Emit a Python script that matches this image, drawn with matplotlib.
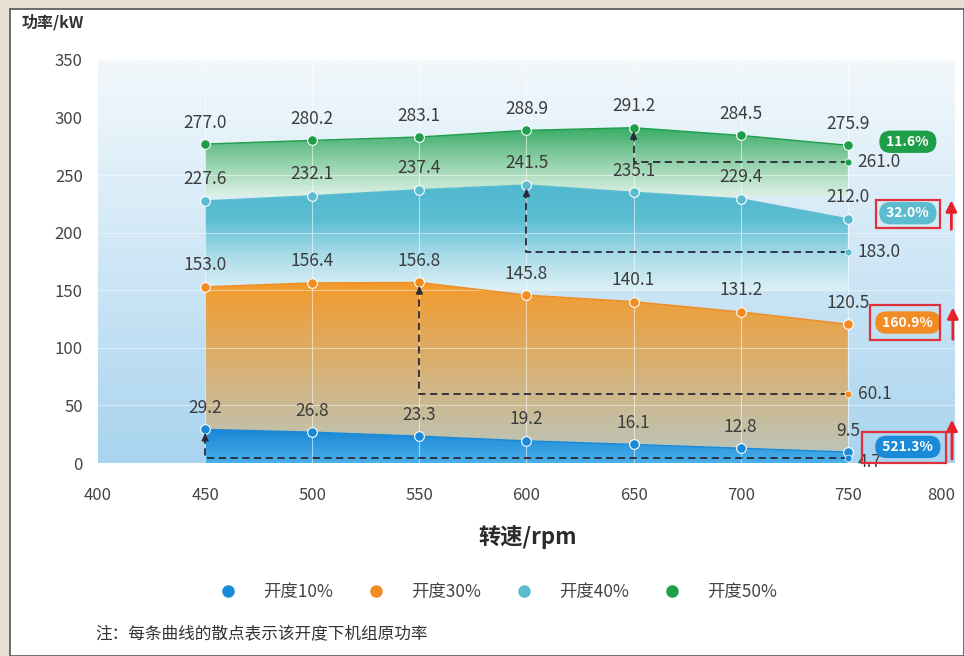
import numpy as np
import matplotlib
matplotlib.use("Agg")
import matplotlib.pyplot as plt
from matplotlib.colors import LinearSegmentedColormap
from matplotlib.patches import PathPatch, Rectangle

plt.rcParams['font.family'] = ['Noto Sans CJK SC', 'DejaVu Sans']

# ---------------- data ----------------
rpm = [450, 500, 550, 600, 650, 700, 750]
p10 = [29.2, 26.8, 23.3, 19.2, 16.1, 12.8, 9.5]
p30 = [153.0, 156.4, 156.8, 145.8, 140.1, 131.2, 120.5]
p40 = [227.6, 232.1, 237.4, 241.5, 235.1, 229.4, 212.0]
p50 = [277.0, 280.2, 283.1, 288.9, 291.2, 284.5, 275.9]
orig_power = [4.7, 60.1, 183.0, 261.0]          # 10%, 30%, 40%, 50%
series_names = ['开度10%', '开度30%', '开度40%', '开度50%']
series_colors = ['#1a8ad8', '#f08c22', '#5bbcd0', '#1f9e4a']
xticks = [400, 450, 500, 550, 600, 650, 700, 750, 800]
yticks = [0, 50, 100, 150, 200, 250, 300, 350]

W, H = 964, 656
fig = plt.figure(figsize=(W / 100, H / 100), dpi=100)
fig.patch.set_facecolor('#e6dfd2')
# white panel
fig.patches.append(Rectangle((10 / W, 0), 1 - 10 / W, 1 - 9 / H, transform=fig.transFigure,
                             facecolor='white', edgecolor='#555555', lw=1.2, zorder=-10))

ax = fig.add_axes([98 / W, 1 - 463 / H, 857 / W, (463 - 60) / H])
ax.set_facecolor('none')
ax.set_zorder(1)

x = np.array(rpm, dtype=float)
data = [np.array(p10), np.array(p30), np.array(p40), np.array(p50)]

# background gradient
bg = LinearSegmentedColormap.from_list('bg', ['#a9d4ef', '#cfe7f6', '#f2f8fc'])
ax.imshow(np.linspace(0, 1, 256).reshape(-1, 1), extent=[400, 800, 0, 350], origin='lower',
          cmap=bg, aspect='auto', zorder=0)


def grad_fill(ybot, ytop, colors, y0, y1, z):
    poly = ax.fill_between(x, ybot, ytop, facecolor='none', edgecolor='none')
    path = poly.get_paths()[0]
    patch = PathPatch(path, transform=ax.transData, facecolor='none', edgecolor='none')
    ax.add_patch(patch)
    cmap = LinearSegmentedColormap.from_list('g', colors)
    im = ax.imshow(np.linspace(0, 1, 256).reshape(-1, 1), extent=[x.min(), x.max(), y0, y1],
                   origin='lower', cmap=cmap, aspect='auto', zorder=z)
    im.set_clip_path(patch)


zeros = np.zeros_like(x)
grad_fill(zeros, data[1], ['#b8c7c2', '#d6b278', '#f39a2b'], 0, 157, 1)
grad_fill(data[1], data[2], ['#dcf0f6', '#a8dbe8', '#5bbdd2', '#50b8cf'], 150, 242, 1)
grad_fill(data[2], data[3], ['#dcf1e5', '#8fd0a8', '#36aa64'], 232, 292, 1)
grad_fill(zeros, data[0], ['#4ab0ea', '#1783d4'], 0, 30, 2)

# grid
for xv in rpm:
    ax.axvline(xv, color='white', lw=0.8, alpha=0.55, zorder=2.5)
for yv in yticks[1:]:
    ax.axhline(yv, color='white', lw=0.8, alpha=0.45, zorder=2.5)

# lines + markers + labels
for d, c in zip(data, series_colors):
    ax.plot(x, d, color=c, lw=1.0, zorder=4)
    ax.plot(x, d, 'o', color=c, ms=7, mec='white', mew=0.8, zorder=5)
    for xv, yv in zip(x, d):
        ax.annotate(f'{yv:.1f}', (xv, yv), xytext=(0, 9), textcoords='offset points',
                    ha='center', va='bottom', fontsize=12.5, color='#3c3c3c', zorder=8)

# dashed annotations from original power to max
for d, o, c in zip(data, orig_power, series_colors):
    i = int(np.argmax(d))
    xm, ym = x[i], d[i]
    ax.plot([x[-1], xm, xm], [o, o, ym - 4], ls=(0, (4, 2.5)), color='#2a2a3a', lw=1.3, zorder=6)
    ax.annotate('', xy=(xm, ym - 1), xytext=(xm, ym - 8),
                arrowprops=dict(arrowstyle='-|>', color='#2a2a3a', lw=1.2, mutation_scale=10),
                zorder=6)
    ax.plot([x[-1]], [o], 'o', color=c, ms=5, mec='white', mew=0.5, zorder=6)
    ax.annotate(f'{o:.1f}', (x[-1], o), xytext=(7, 0 if o > 10 else -3), textcoords='offset points',
                ha='left', va='center', fontsize=12.5, color='#3c3c3c', zorder=6.5)

# badges
gains = [(max(d) - o) / o * 100 for d, o in zip(data, orig_power)]
badge_y = [14, 122, 217, 279]
for g, by, c in zip(gains, badge_y, series_colors):
    ax.text(778, by, f' {g:.1f}% ', ha='center', va='center', fontsize=10, color='white',
            fontweight='bold', zorder=9, clip_on=False,
            bbox=dict(boxstyle='round,pad=0.3,rounding_size=0.8', fc=c, ec='none'))

# red boxes and arrows
red_boxes = [(756.6, 0.0, 39.2, 26.9), (760.4, 106.9, 32.6, 30.4), (763.2, 204.2, 29.8, 24.3)]
red_arrows = [(798.6, 1.0, 40.0), (799.0, 105.0, 137.5), (798.3, 200.5, 230.5)]
for (bx, byy, bw, bh) in red_boxes:
    ax.add_patch(Rectangle((bx, byy), bw, bh, fill=False, ec='#e0303c', lw=1.6, zorder=10,
                           clip_on=False))
for (axv, y0, y1) in red_arrows:
    ax.annotate('', xy=(axv, y1), xytext=(axv, y0), annotation_clip=False,
                arrowprops=dict(arrowstyle='-|>', color='#e8202a', lw=2.0, mutation_scale=16),
                zorder=10)

# axes
ax.set_xlim(400, 800)
ax.set_ylim(0, 350)
ax.set_xticks(xticks)
ax.set_yticks(yticks)
ax.set_xticklabels([str(t) for t in xticks])
ax.tick_params(axis='x', length=0, pad=17, labelsize=12, labelcolor='#444444')
ax.tick_params(axis='y', length=0, pad=11, labelsize=12, labelcolor='#444444')
ax.get_xticklabels()[-1].set_ha('right')
for s in ax.spines.values():
    s.set_visible(False)

fig.text(528 / W, 1 - 537 / H, '转速/rpm', ha='center', va='center', fontsize=16,
         fontweight='bold', color='#2a2a2a')
fig.text(22 / W, 1 - 22 / H, '功率/kW', ha='left', va='center', fontsize=11.5,
         fontweight='bold', color='#333333')

handles = [plt.Line2D([], [], ls='none', marker='o', ms=8, color=c) for c in series_colors]
fig.legend(handles, series_names, loc='center', bbox_to_anchor=(0.512, 1 - 592 / H), ncol=4,
           frameon=False, fontsize=12.5, labelcolor='#444444', handletextpad=1.0,
           columnspacing=1.5)

fig.text(95 / W, 1 - 635 / H, '注：每条曲线的散点表示该开度下机组原功率', ha='left', va='center',
         fontsize=12, color='#333333')

fig.savefig('out.png', dpi=100, facecolor=fig.get_facecolor())
